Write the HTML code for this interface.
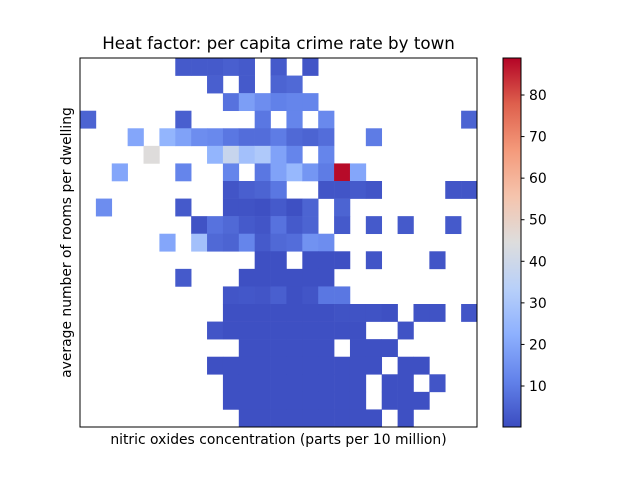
<!DOCTYPE html>
<html><head><meta charset="utf-8"><style>
body{margin:0;background:#fff;}
svg{display:block;font-family:"DejaVu Sans","Liberation Sans",sans-serif;}
</style></head><body>
<svg id="chart" width="640" height="480" viewBox="0 0 640 480" xmlns="http://www.w3.org/2000/svg">
<defs>
<linearGradient id="cw" x1="0" y1="1" x2="0" y2="0">
<stop offset="0" stop-color="rgb(59,76,192)"/>
<stop offset="0.125" stop-color="rgb(98,130,234)"/>
<stop offset="0.25" stop-color="rgb(141,176,254)"/>
<stop offset="0.375" stop-color="rgb(184,208,249)"/>
<stop offset="0.5" stop-color="rgb(221,221,221)"/>
<stop offset="0.625" stop-color="rgb(245,196,173)"/>
<stop offset="0.75" stop-color="rgb(244,154,123)"/>
<stop offset="0.875" stop-color="rgb(222,96,77)"/>
<stop offset="1" stop-color="rgb(180,4,38)"/>
</linearGradient>
</defs>
<text x="278.5" y="49" font-size="16.7" text-anchor="middle">Heat factor: per capita crime rate by town</text>
<g id="cells"></g>
<rect x="80" y="58" width="397" height="369" fill="none" stroke="#000" stroke-width="1"/>
<text x="278.5" y="444" font-size="13.9" text-anchor="middle">nitric oxides concentration (parts per 10 million)</text>
<text transform="translate(71,242.5) rotate(-90)" font-size="13.9" text-anchor="middle">average number of rooms per dwelling</text>
<rect x="503" y="58" width="18" height="369" fill="url(#cw)" stroke="#000" stroke-width="1"/>
<g id="cbticks"></g>
</svg>
<script>
const _ = null;
const nCols = 25;
const nRows = 21;
const vmin = 0.14;
const vmax = 88.9;
const cbTicks = [10, 20, 30, 40, 50, 60, 70, 80];
const values = [
[_,_,_,_,_,_,3,3,3,4,3,_,3,_,2,_,_,_,_,_,_,_,_,_,_],
[_,_,_,_,_,_,_,_,4,_,3,_,5,6,_,_,_,_,_,_,_,_,_,_,_],
[_,_,_,_,_,_,_,_,_,8,18,14,11,12,12,_,_,_,_,_,_,_,_,_,_],
[5,_,_,_,_,_,4,_,_,_,_,9,_,12,_,13,_,_,_,_,_,_,_,_,5],
[_,_,_,20,_,24,19,14,13,9,7,7,10,6,5,7,_,_,10,_,_,_,_,_,_],
[_,_,_,_,45,_,_,_,24,38,28,31,19,12,_,12,_,_,_,_,_,_,_,_,_],
[_,_,20,_,_,_,12,_,_,12,_,9,19,25,16,10,88,20,_,_,_,_,_,_,_],
[_,_,_,_,_,_,_,_,_,2,4,5,9,_,_,2,2,3,2,_,_,_,_,2,2],
[_,14,_,_,_,_,3,_,_,1.5,1.5,1,3,1,5,_,5,_,_,_,_,_,_,_,_],
[_,_,_,_,_,_,_,1.5,8,6,3,2,8,3,5,_,3,_,3,_,3,_,_,3,_],
[_,_,_,_,_,20,_,28,6,5,12,3,6,7,15,14,_,_,_,_,_,_,_,_,_],
[_,_,_,_,_,_,_,_,_,_,_,1,1,_,1,1,1,_,2,_,_,_,2,_,_],
[_,_,_,_,_,_,3,_,_,_,1,1,1,1,1,1,_,_,_,_,_,_,_,_,_],
[_,_,_,_,_,_,_,_,_,2,2.5,2,4,1,2,9,9,_,_,_,_,_,_,_,_],
[_,_,_,_,_,_,_,_,_,1,1,1,1,1,1,1,1.5,1.5,1.5,1,_,1.5,1.5,_,2],
[_,_,_,_,_,_,_,_,2,1,1,1,1,1,1,1,1,1,_,_,1.5,_,_,_,_],
[_,_,_,_,_,_,_,_,_,_,1,1,1,1,1,1,_,1,1,1,_,_,_,_,_],
[_,_,_,_,_,_,_,_,1,1,1,1,1,1,1,1,1,1,1,_,1,1,_,_,_],
[_,_,_,_,_,_,_,_,_,1,1,1,1,1,1,1,1,1,_,1,1,_,2,_,_],
[_,_,_,_,_,_,_,_,_,1,1,1,1,1,1,1,1,1,_,1,1,1,_,_,_],
[_,_,_,_,_,_,_,_,_,_,1,1,1,1,1,1,1,1,1,_,1,_,_,_,_]
];
const NS = "http://www.w3.org/2000/svg";
const px0 = 80, px1 = 477, py0 = 58, py1 = 427;
const xScale = c => px0 + (px1 - px0) * c / nCols;
const yScale = r => py0 + (py1 - py0) * r / nRows;
const cbScale = v => py1 - (py1 - py0) * (v - vmin) / (vmax - vmin);
const stops = [[59,76,192],[98,130,234],[141,176,254],[184,208,249],[221,221,221],[245,196,173],[244,154,123],[222,96,77],[180,4,38]];
function cmap(v){
  let t = Math.max(0, Math.min(1, (v - vmin) / (vmax - vmin)));
  let p = t * 8, i = Math.min(7, Math.floor(p)), f = p - i;
  const a = stops[i], b = stops[i+1];
  return "rgb(" + a.map((x,k)=>Math.round(x + (b[k]-x)*f)).join(",") + ")";
}
const g = document.getElementById("cells");
values.forEach((row, r) => row.forEach((v, c) => {
  if (v === null || v === undefined) return;
  const rect = document.createElementNS(NS, "rect");
  
  
  const x0 = xScale(c), x1 = xScale(c + 1), y0 = yScale(r), y1 = yScale(r + 1);
  rect.setAttribute("x", x0); rect.setAttribute("y", y0);
  rect.setAttribute("width", x1 - x0 + 0.3); rect.setAttribute("height", y1 - y0 + 0.3);
  rect.setAttribute("fill", cmap(v));
  g.appendChild(rect);
}));
const tg = document.getElementById("cbticks");
cbTicks.forEach(t => {
  const y = cbScale(t);
  const ln = document.createElementNS(NS, "line");
  
  
  ln.setAttribute("x1", 521); ln.setAttribute("x2", 524.5);
  ln.setAttribute("y1", y); ln.setAttribute("y2", y);
  ln.setAttribute("stroke", "#000");
  tg.appendChild(ln);
  const tx = document.createElementNS(NS, "text");
  
  
  tx.setAttribute("x", 529); tx.setAttribute("y", y + 5);
  tx.setAttribute("font-size", "13.9");
  tx.textContent = t;
  tg.appendChild(tx);
});
</script>
</body></html>
